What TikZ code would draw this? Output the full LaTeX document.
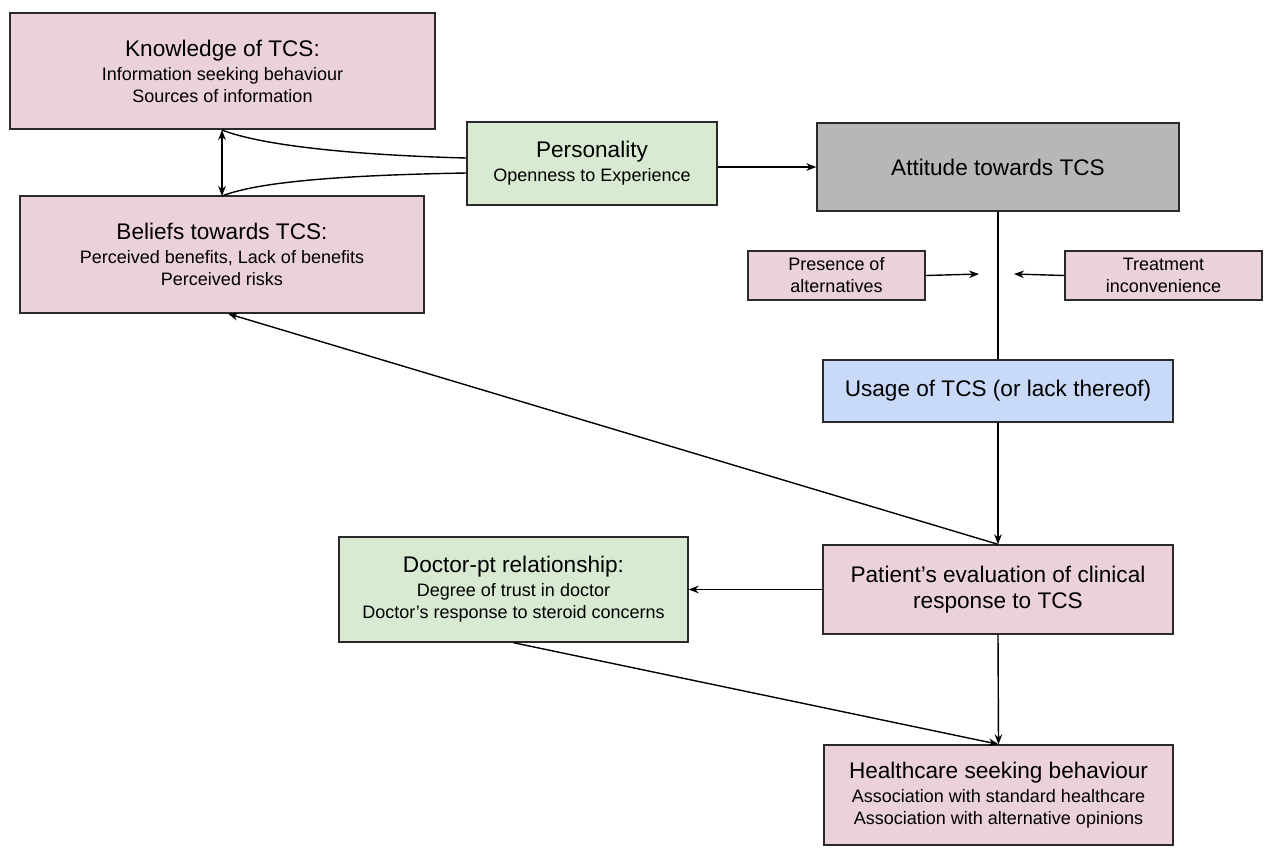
\documentclass[tikz,border=0pt]{standalone}
\usepackage{fontspec}
\setmainfont{Liberation Sans}
\usetikzlibrary{arrows.meta}
\definecolor{pinkf}{HTML}{EAD1DC}
\definecolor{greenf}{HTML}{D9EAD3}
\definecolor{bluef}{HTML}{C9DAF8}
\definecolor{greyf}{HTML}{B7B7B7}
\definecolor{edge}{HTML}{2A2A2A}
\newcommand{\ttlfont}{\fontsize{11.3}{13.3}\selectfont}
\newcommand{\subfont}{\fontsize{9}{11}\selectfont}
\tikzset{
  box/.style={draw=edge, line width=0.7pt, rectangle, align=center, inner sep=0pt, font=\subfont},
  pinkbox/.style={box, fill=pinkf},
  greenbox/.style={box, fill=greenf},
  conn/.style={line width=0.7pt, draw=black},
  arr/.style={conn, -{Stealth[length=5pt,width=3.8pt]}},
}
\begin{document}
\begin{tikzpicture}[x=0.5pt,y=-0.5pt]
\useasboundingbox (0,0) rectangle (1264,848);
\node[pinkbox, minimum width=212.5pt, minimum height=58pt] (know) at (222.5,71)
  {{\ttlfont Knowledge of TCS:}\\[1pt] Information seeking behaviour\\ Sources of information};
\node[pinkbox, minimum width=202pt, minimum height=58.5pt] (belief) at (222,254.5)
  {{\ttlfont Beliefs towards TCS:}\\[1pt] Perceived benefits, Lack of benefits\\ Perceived risks};
\node[greenbox, minimum width=125pt, minimum height=41.5pt] (pers) at (592,163.5)
  {{\ttlfont Personality}\\[1pt] Openness to Experience};
\node[box, fill=greyf, minimum width=181pt, minimum height=44pt, font=\ttlfont] (att) at (998,167)
  {Attitude towards TCS};
\node[pinkbox, minimum width=88.5pt, minimum height=24.5pt] (pres) at (836.5,275.5)
  {Presence of\\alternatives};
\node[pinkbox, minimum width=98.5pt, minimum height=24.5pt] (treat) at (1163.5,275.5)
  {Treatment\\inconvenience};
\node[box, fill=bluef, minimum width=175pt, minimum height=31pt, font=\ttlfont] (usage) at (998,391)
  {Usage of TCS (or lack thereof)};
\node[pinkbox, minimum width=175pt, minimum height=44.5pt, font=\ttlfont] (patient) at (998,589.5)
  {Patient’s evaluation of clinical\\ response to TCS};
\node[greenbox, minimum width=174.5pt, minimum height=52.5pt] (doctor) at (513.5,589.5)
  {{\ttlfont Doctor-pt relationship:}\\[1pt] Degree of trust in doctor\\ Doctor’s response to steroid concerns};
\node[pinkbox, minimum width=174.5pt, minimum height=50pt] (health) at (998.5,795)
  {{\ttlfont Healthcare seeking behaviour}\\[1pt] Association with standard healthcare\\ Association with alternative opinions};

\coordinate (kb) at (222,130);
\coordinate (bt) at (222,196);
\coordinate (pin) at (979,274);
\coordinate (tin) at (1014,274);

\draw[arr, {Stealth[length=5pt,width=3.8pt]}-{Stealth[length=5pt,width=3.8pt]}] (kb) -- (bt);
\draw[conn] (pers.west |- 0,158) .. controls (350,155) and (260,145) .. (kb);
\draw[conn] (pers.west |- 0,173) .. controls (350,175) and (260,181) .. (bt);
\draw[arr] (pers.east |- att.west) -- (att.west);
\draw[conn] (att.south) -- (usage.north);
\draw[arr] (pres.east) -- (pin);
\draw[arr] (treat.west) -- (tin);
\draw[arr] (usage.south) -- (patient.north);
\draw[arr] (patient.north) -- ([xshift=3pt]belief.south);
\draw[arr] (patient.west) -- (doctor.east);
\draw[arr] (patient.south) -- (health.north);
\draw[arr] (doctor.south) -- (health.north);
\end{tikzpicture}
\end{document}
